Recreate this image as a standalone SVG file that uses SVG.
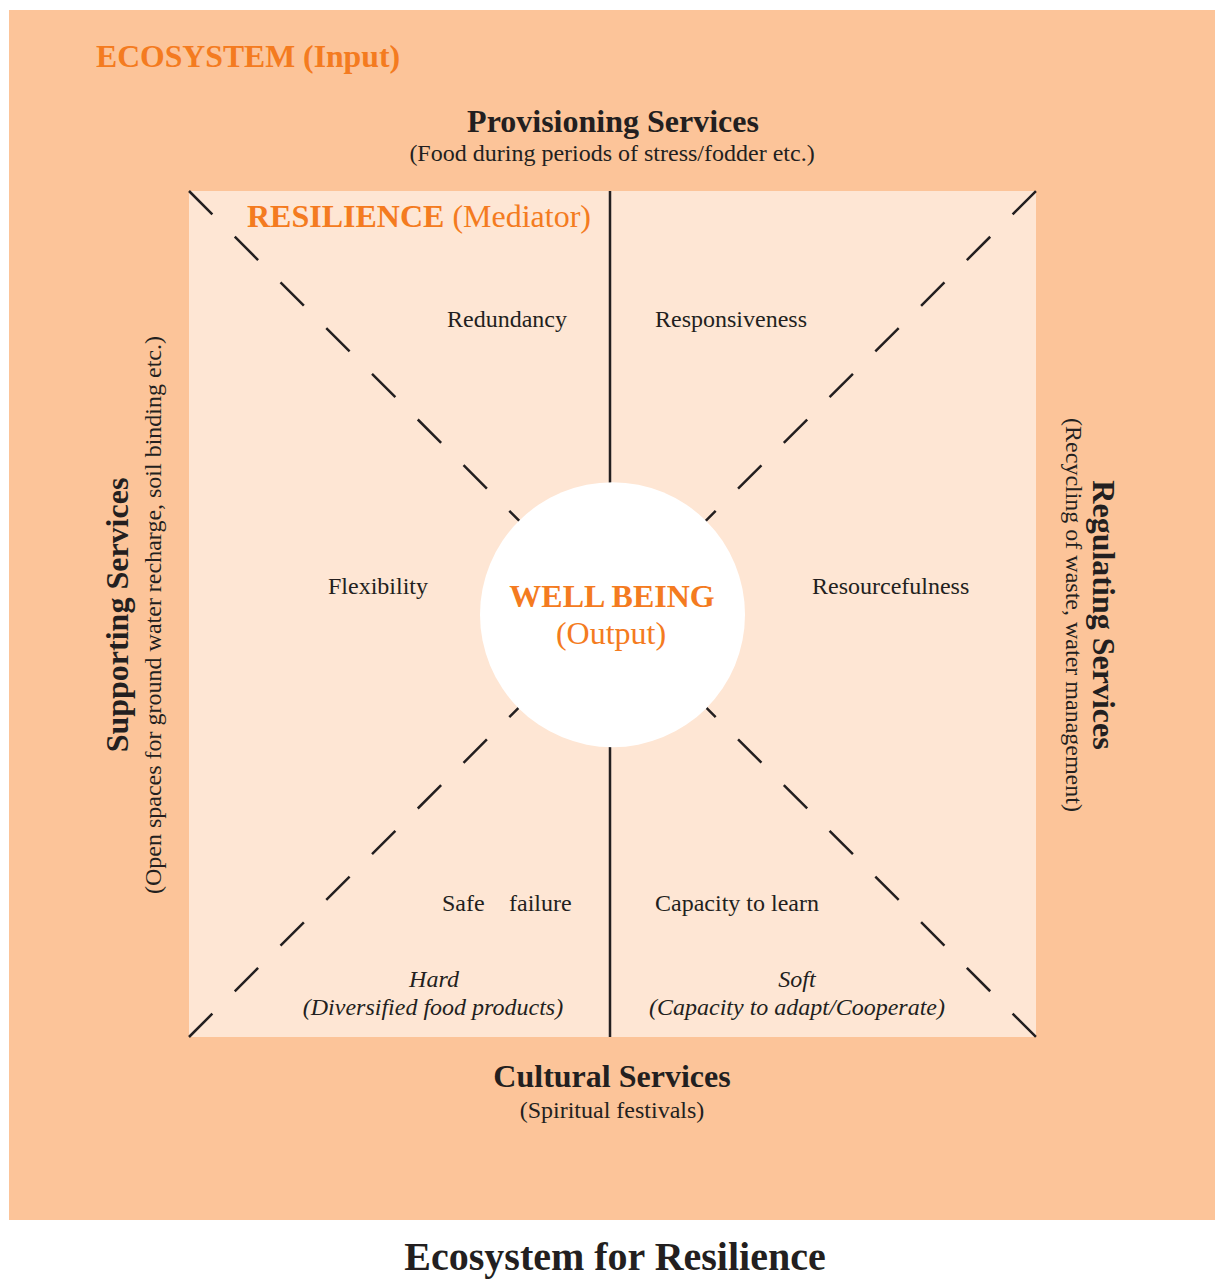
<svg xmlns="http://www.w3.org/2000/svg" width="1215" height="1281" viewBox="0 0 1215 1281">
<style>
.t{font-family:"Liberation Serif","Times New Roman",serif;fill:#231F20}
.b{font-weight:bold}
.o{fill:#F47B20}
.s24{font-size:24px}
.s32{font-size:32px}
.i{font-style:italic}
.m{text-anchor:middle}
.ln{stroke:#231F20;stroke-width:2.5;fill:none}
.d{stroke-dasharray:33 31.67}
</style>
<rect width="1215" height="1281" fill="#FFFFFF"/>
<g id="ecosystem">
<rect x="9" y="10" width="1206" height="1210" fill="#FCC499"/>
<text class="t b o s32" x="96" y="67" textLength="304" lengthAdjust="spacingAndGlyphs">ECOSYSTEM (Input)</text>
</g>
<g id="provisioning">
<text class="t b s32 m" x="613" y="132">Provisioning Services</text>
<text class="t s24 m" x="612" y="161">(Food during periods of stress/fodder etc.)</text>
</g>
<g id="cultural">
<text class="t b s32 m" x="612" y="1087">Cultural Services</text>
<text class="t s24 m" x="612" y="1118">(Spiritual festivals)</text>
</g>
<g id="supporting">
<text class="t b s32 m" transform="translate(128 615) rotate(-90)">Supporting Services</text>
<text class="t s24 m" transform="translate(161 615) rotate(-90)">(Open spaces for ground water recharge, soil binding etc.)</text>
</g>
<g id="regulating">
<text class="t b s32 m" transform="translate(1093 615) rotate(90)">Regulating Services</text>
<text class="t s24 m" transform="translate(1066 615) rotate(90)">(Recycling of waste, water management)</text>
</g>
<g id="resilience">
<rect x="189" y="191" width="847" height="846" fill="#FEE6D4"/>
<text class="t o s32" x="247" y="227"><tspan class="b">RESILIENCE</tspan> (Mediator)</text>
</g>
<g id="connectors">
<line class="ln" x1="610" y1="191" x2="610" y2="1037"/>
<line class="ln d" x1="189" y1="191" x2="1036" y2="1037"/>
<line class="ln d" x1="189" y1="1037" x2="1036" y2="191"/>
</g>
<g id="redundancy"><text class="t s24" x="447" y="327">Redundancy</text></g>
<g id="responsiveness"><text class="t s24" x="655" y="327">Responsiveness</text></g>
<g id="flexibility"><text class="t s24" x="328" y="594">Flexibility</text></g>
<g id="resourcefulness"><text class="t s24" x="812" y="594">Resourcefulness</text></g>
<g id="safefailure"><text class="t s24" x="442" y="911">Safe</text><text class="t s24" x="509" y="911">failure</text></g>
<g id="capacity"><text class="t s24" x="655" y="911">Capacity to learn</text></g>
<g id="hard">
<text class="t s24 i m" x="434" y="987">Hard</text>
<text class="t s24 i m" x="433" y="1015">(Diversified food products)</text>
</g>
<g id="soft">
<text class="t s24 i m" x="797" y="987">Soft</text>
<text class="t s24 i m" x="797" y="1015">(Capacity to adapt/Cooperate)</text>
</g>
<g id="wellbeing">
<circle cx="612.5" cy="614.7" r="132.5" fill="#FFFFFF"/>
<text class="t b o s32 m" x="612" y="607">WELL BEING</text>
<text class="t o s32 m" x="611" y="644">(Output)</text>
</g>
<g id="title">
<text class="t b m" style="font-size:40px" x="615" y="1270">Ecosystem for Resilience</text>
</g>
</svg>
